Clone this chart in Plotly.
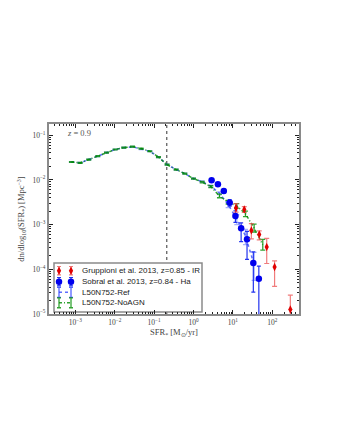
import numpy as np
import plotly.graph_objects as go

# ---- data (log10 values) ----
sim_logsfr = [-3.10, -2.88, -2.66, -2.43, -2.21, -1.99, -1.77, -1.55, -1.33, -1.11,
              -0.89, -0.67, -0.44, -0.22, 0.00, 0.22, 0.44, 0.66, 0.88, 1.10, 1.32, 1.54]
ref_logphi = [-1.60, -1.62, -1.545, -1.47, -1.39, -1.32, -1.28, -1.26, -1.31, -1.36,
              -1.49, -1.66, -1.77, -1.86, -1.97, -2.04, -2.14, -2.30, -2.55, -2.88, -3.25, -3.90]
ref_err_up = [0.01, 0.01, 0.01, 0.01, 0.01, 0.01, 0.01, 0.01, 0.01, 0.01,
              0.01, 0.01, 0.01, 0.01, 0.01, 0.015, 0.02, 0.03, 0.06, 0.10, 0.14, 0.28]
ref_err_dn = [0.01, 0.01, 0.01, 0.01, 0.01, 0.01, 0.01, 0.01, 0.01, 0.01,
              0.01, 0.01, 0.01, 0.01, 0.01, 0.015, 0.02, 0.03, 0.07, 0.12, 0.20, 0.35]

noagn_logsfr = [-3.10, -2.88, -2.66, -2.43, -2.21, -1.99, -1.77, -1.55, -1.33, -1.11,
                -0.89, -0.67, -0.44, -0.22, 0.00, 0.22, 0.44, 0.66, 0.88, 1.10, 1.32, 1.54, 1.76]
noagn_logphi = [-1.60, -1.62, -1.545, -1.47, -1.39, -1.32, -1.28, -1.255, -1.30, -1.36,
                -1.49, -1.66, -1.77, -1.86, -1.97, -2.05, -2.15, -2.36, -2.50, -2.58, -2.76, -3.08, -3.45]
noagn_err = [0.01, 0.01, 0.01, 0.01, 0.01, 0.01, 0.01, 0.01, 0.01, 0.01,
             0.01, 0.01, 0.01, 0.01, 0.01, 0.015, 0.02, 0.04, 0.04, 0.05, 0.06, 0.09, 0.12]

sobral_logsfr = [0.46, 0.62, 0.77, 0.92, 1.065, 1.21, 1.36, 1.52, 1.66]
sobral_logphi = [-2.01, -2.10, -2.25, -2.51, -2.81, -3.08, -3.33, -3.86, -4.21]
sobral_err_up = [0.03, 0.03, 0.04, 0.07, 0.12, 0.12, 0.18, 0.25, 0.28]
sobral_err_dn = [0.03, 0.03, 0.04, 0.08, 0.14, 0.30, 0.45, 0.65, 1.50]

grupp_logsfr = [1.08, 1.29, 1.47, 1.67, 1.86, 2.06, 2.46]
grupp_logphi = [-2.63, -2.66, -3.13, -3.22, -3.50, -3.95, -4.90]
grupp_err_up = [0.10, 0.06, 0.15, 0.08, 0.19, 0.14, 0.32]
grupp_err_dn = [0.09, 0.07, 0.19, 0.12, 0.37, 0.43, 0.30]

sfr_cut = 0.21
legend_labels = ["Gruppioni et al. 2013, z=0.85 - IR", "Sobral et al. 2013, z=0.84 - Ha",
                 "L50N752-Ref", "L50N752-NoAGN"]
x_ticks = [1e-3, 1e-2, 1e-1, 1e0, 1e1, 1e2]
x_labels = ["10<sup>−3</sup>", "10<sup>−2</sup>", "10<sup>−1</sup>", "10<sup>0</sup>", "10<sup>1</sup>", "10<sup>2</sup>"]
y_ticks = [1e-5, 1e-4, 1e-3, 1e-2, 1e-1]
y_labels = ["10<sup>−5</sup>", "10<sup>−4</sup>", "10<sup>−3</sup>", "10<sup>−2</sup>", "10<sup>−1</sup>"]

# ---- styles / layout constants ----
X_RANGE = [-3.67, 2.68]
Y_RANGE = [-5.0, -0.75]
C_GRUPP, C_GRUPP_ERR = "#e00000", "rgba(235,80,80,0.75)"
C_SOBRAL, C_SOBRAL_ERR = "#0000ee", "#2233ee"
C_REF, C_REF_ERR = "rgba(40,60,255,0.75)", "rgba(90,110,255,0.55)"
C_NOAGN, C_NOAGN_ERR = "rgba(0,140,0,0.8)", "rgba(0,140,0,0.8)"
SERIF = "Liberation Serif"


def lin(logs):
    return 10 ** np.array(logs, dtype=float)


def errs(logs, up, dn):
    y = lin(logs)
    return y * (10 ** np.array(up) - 1), y * (1 - 10 ** (-np.array(dn)))


def paper_to_data(frac, rng):
    return 10 ** (rng[0] + frac * (rng[1] - rng[0]))


fig = go.Figure()

# vertical resolution limit (drawn first, legend box covers it)
fig.add_shape(type="line", xref="x", yref="paper", x0=sfr_cut, x1=sfr_cut, y0=0, y1=1,
              layer="below", line=dict(color="#333333", width=1, dash="dot"))

# ---- legend box (in subplot shape layer so it covers the dotted line) ----
lg_x0, lg_x1, lg_y0, lg_y1 = 0.02, 0.612, 0.0105, 0.268
fig.add_shape(type="rect", xref="x", yref="y",
              x0=paper_to_data(lg_x0, X_RANGE), x1=paper_to_data(lg_x1, X_RANGE),
              y0=paper_to_data(lg_y0, Y_RANGE), y1=paper_to_data(lg_y1, Y_RANGE),
              layer="below", fillcolor="white", line=dict(color="#8a8a8a", width=1.5))

# simulations
ru, rd = errs(ref_logphi, ref_err_up, ref_err_dn)
fig.add_trace(go.Scatter(
    x=lin(sim_logsfr), y=lin(ref_logphi), mode="lines", showlegend=False,
    line=dict(color=C_REF, width=1.5, dash="dot"),
    error_y=dict(type="data", symmetric=False, array=ru, arrayminus=rd,
                 color=C_REF_ERR, thickness=1.3, width=2.5)))
nu, nd = errs(noagn_logphi, noagn_err, noagn_err)
fig.add_trace(go.Scatter(
    x=lin(noagn_logsfr), y=lin(noagn_logphi), mode="lines", showlegend=False,
    line=dict(color=C_NOAGN, width=1.5, dash="3px,2px,1px,2px"),
    error_y=dict(type="data", symmetric=False, array=nu, arrayminus=nd,
                 color=C_NOAGN_ERR, thickness=1.3, width=2.5)))

# observations
su, sd = errs(sobral_logphi, sobral_err_up, sobral_err_dn)
fig.add_trace(go.Scatter(
    x=lin(sobral_logsfr), y=lin(sobral_logphi), mode="markers", showlegend=False,
    marker=dict(color=C_SOBRAL, size=6.5, symbol="circle"),
    error_y=dict(type="data", symmetric=False, array=su, arrayminus=sd,
                 color=C_SOBRAL_ERR, thickness=1.2, width=2)))
gu, gd = errs(grupp_logphi, grupp_err_up, grupp_err_dn)
fig.add_trace(go.Scatter(
    x=lin(grupp_logsfr), y=lin(grupp_logphi), mode="markers", showlegend=False,
    marker=dict(color=C_GRUPP, size=6, symbol="diamond-tall"),
    error_y=dict(type="data", symmetric=False, array=gu, arrayminus=gd,
                 color=C_GRUPP_ERR, thickness=1.2, width=2.5)))

# ---- legend keys and labels ----
row_y = [0.228, 0.170, 0.114, 0.059]
key_x = [0.04, 0.088]
key_styles = [
    dict(mode="markers", marker=dict(color=C_GRUPP, size=6, symbol="diamond-tall"),
         error_y=dict(type="constant", value=0.022, color=C_GRUPP_ERR, thickness=1.2, width=2)),
    dict(mode="markers", marker=dict(color=C_SOBRAL, size=6.5, symbol="circle"),
         error_y=dict(type="constant", value=0.022, color=C_SOBRAL_ERR, thickness=1.2, width=2)),
    dict(mode="lines", line=dict(color=C_REF, width=1.5, dash="dot"),
         error_y=dict(type="constant", value=0.026, color="rgba(40,60,255,0.8)", thickness=1.3, width=2)),
    dict(mode="lines", line=dict(color=C_NOAGN, width=1.5, dash="3px,2px,1px,2px"),
         error_y=dict(type="constant", value=0.026, color=C_NOAGN_ERR, thickness=1.3, width=2)),
]
for ry, st, lab in zip(row_y, key_styles, legend_labels):
    fig.add_trace(go.Scatter(x=key_x, y=[ry, ry], xaxis="x2", yaxis="y2",
                             showlegend=False, hoverinfo="skip", **st))
    fig.add_annotation(x=0.124, y=ry, xref="paper", yref="paper", text=lab, showarrow=False,
                       xanchor="left", yanchor="middle",
                       font=dict(family="Liberation Sans", size=8, color="#222"))

fig.add_annotation(x=0.064, y=0.953, xref="paper", yref="paper", showarrow=False,
                   text="<i>z</i> = 0.9", font=dict(family=SERIF, size=8.5, color="#555555"),
                   xanchor="left", yanchor="middle")

axis_common = dict(
    type="log", showgrid=False, zeroline=False, showline=True, mirror="allticks",
    linecolor="#8a8a8a", linewidth=2, ticks="inside", ticklen=4, tickwidth=1, tickcolor="#222",
    tickfont=dict(family=SERIF, size=7.5, color="#444"),
    minor=dict(ticks="inside", ticklen=2, tickwidth=1, tickcolor="#222", dtick="D1"),
)

fig.update_xaxes(**axis_common, range=X_RANGE, tickvals=x_ticks, ticktext=x_labels,
                 title=dict(text="SFR<sub>*</sub> [M<sub>⊙</sub>/yr]", standoff=0,
                            font=dict(family=SERIF, size=8.5, color="#444")))
fig.update_yaxes(**axis_common, range=Y_RANGE, tickvals=y_ticks, ticktext=y_labels,
                 title=dict(text="dn/dlog<sub>10</sub>(SFR<sub>*</sub>) [Mpc<sup>−3</sup>]", standoff=6,
                            font=dict(family=SERIF, size=8.5, color="#444")))

fig.update_layout(
    width=332, height=432,
    margin=dict(l=41, r=41, t=116, b=126),
    paper_bgcolor="white", plot_bgcolor="white",
    showlegend=False,
    xaxis2=dict(overlaying="x", range=[0, 1], visible=False, fixedrange=True),
    yaxis2=dict(overlaying="y", range=[0, 1], visible=False, fixedrange=True),
)

fig.write_html("out.html")
